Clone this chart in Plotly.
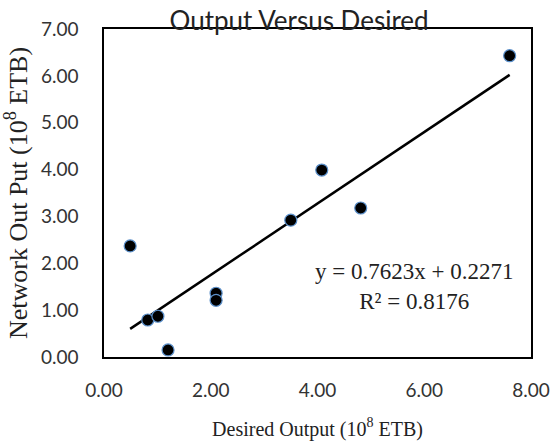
import plotly.graph_objects as go

desired = [0.49, 0.82, 1.01, 1.20, 2.10, 2.10, 3.50, 4.08, 4.81, 7.60]
network = [2.37, 0.79, 0.87, 0.15, 1.36, 1.21, 2.92, 3.99, 3.18, 6.43]
slope, intercept = 0.7623, 0.2271
r2 = 0.8176
x_ticks = [0, 2, 4, 6, 8]
y_ticks = [0, 1, 2, 3, 4, 5, 6, 7]

fit_x = [min(desired), max(desired)]
fit_y = [slope * v + intercept for v in fit_x]

fig = go.Figure()
fig.add_trace(go.Scatter(x=fit_x, y=fit_y, mode="lines",
                         line=dict(color="black", width=2.5), showlegend=False))
fig.add_trace(go.Scatter(x=desired, y=network, mode="markers",
                         marker=dict(size=12, color="black", line=dict(color="#5b8fc9", width=1.2)),
                         showlegend=False))

fig.add_annotation(x=0.726, y=0.215, xref="paper", yref="paper",
                   xanchor="center", yanchor="middle",
                   text=f"y = {slope}x + {intercept}<br>R² = {r2}",
                   showarrow=False, align="center",
                   font=dict(family="Liberation Serif", size=23, color="#222"))

tickfont = dict(family="Lato", size=19, color="#333")
fig.update_layout(
    width=557, height=446,
    margin=dict(l=104, r=26, t=29, b=89, autoexpand=False),
    paper_bgcolor="white", plot_bgcolor="white",
    title=dict(text="Output Versus Desired", x=0.537, xanchor="center", xref="container",
               y=0.953, yanchor="middle", yref="container",
               font=dict(family="Lato", size=26, color="#222")),
    xaxis=dict(range=[0, 8], tickvals=x_ticks, ticktext=[f"{v:.2f}" for v in x_ticks],
               showgrid=False, zeroline=False, showline=True, linecolor="black", linewidth=1.5,
               mirror=True, ticks="", tickfont=tickfont, ticklabelstandoff=15, automargin=False,
               title=dict(text="Desired Output (10<sup>8</sup> ETB)", standoff=22,
                          font=dict(family="Liberation Serif", size=20, color="#222"))),
    yaxis=dict(range=[0, 7], tickvals=y_ticks, ticktext=[f"{v:.2f}" for v in y_ticks],
               showgrid=False, zeroline=False, showline=True, linecolor="black", linewidth=1.5,
               mirror=True, ticks="", tickfont=tickfont, ticklabelstandoff=20, automargin=False,
               title=dict(text="Network Out Put (10<sup>8</sup> ETB)", standoff=16,
                          font=dict(family="Liberation Serif", size=26, color="#222"))),
)
fig.write_html("out.html", config={"displayModeBar": False},
               post_script="document.body.style.margin='0';")
